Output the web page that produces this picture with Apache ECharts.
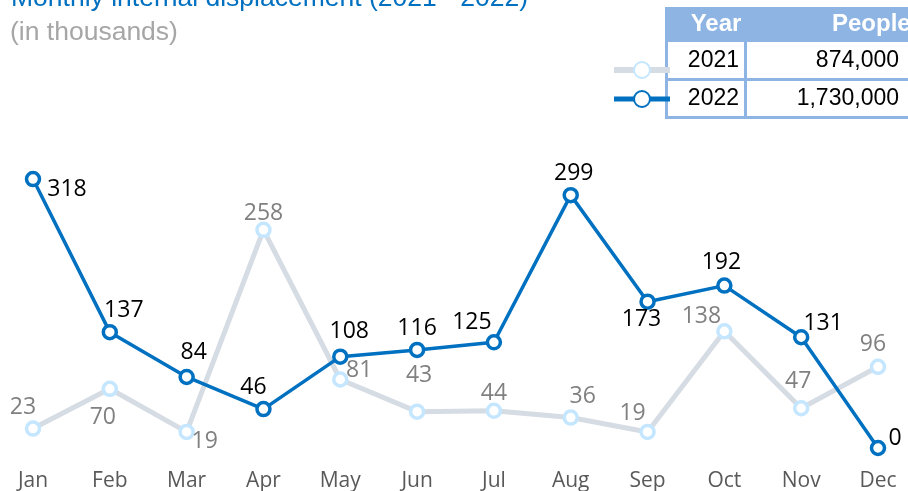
<!DOCTYPE html>
<html>
<head>
<meta charset="utf-8">
<script src="https://cdn.jsdelivr.net/npm/echarts@6/dist/echarts.min.js"></script>
<style>
  html, body { margin: 0; padding: 0; background: #fff; }
  #chart { width: 908px; height: 491px; }
</style>
</head>
<body>
<div id="chart"></div>
<script>
// months on the x axis
var months = ['Jan', 'Feb', 'Mar', 'Apr', 'May', 'Jun', 'Jul', 'Aug', 'Sep', 'Oct', 'Nov', 'Dec'];
// monthly displacement, thousands
var values2021 = [23, 70, 19, 258, 81, 43, 44, 36, 19, 138, 47, 96];
var values2022 = [318, 137, 84, 46, 108, 116, 125, 299, 173, 192, 131, 0];
// legend table
var tableYears = ['2021', '2022'];
var tablePeople = ['874,000', '1,730,000'];

// label nudges (relative to 'top')
var offs2021 = [[-10, 0], [-7, 49], [18, 30], [0, 4], [19, 12], [2, -15], [0, 3], [12, 0], [-15, 2], [-23, 6], [-3, -6], [-5, -2]];
var offs2022 = [[34, 32], [14, 0], [7, -3], [-10, 0], [9, -3], [0, 0], [-22, 2], [3, 0], [-6, 40], [-3, -1], [22, 8], [17, 12]];

function withLabels(vals, offs) {
  return vals.map(function (v, i) {
    return { value: v, label: { offset: offs[i] } };
  });
}

var chart = echarts.init(document.getElementById('chart'));

var tableColor = '#8db4e2';
var cellFont = '23px "Liberation Sans", Arial';
var headFont = 'bold 24px "Liberation Sans", Arial';
var graphics = [
  { type: 'rect', shape: { x: 665, y: 7, width: 260, height: 112 }, style: { fill: tableColor } },
  { type: 'rect', shape: { x: 668, y: 42, width: 76, height: 36 }, style: { fill: '#fff' } },
  { type: 'rect', shape: { x: 747, y: 42, width: 170, height: 36 }, style: { fill: '#fff' } },
  { type: 'rect', shape: { x: 668, y: 81, width: 76, height: 35 }, style: { fill: '#fff' } },
  { type: 'rect', shape: { x: 747, y: 81, width: 170, height: 35 }, style: { fill: '#fff' } },
  { type: 'text', x: 716, y: 24, style: { text: 'Year', fill: '#fff', font: headFont, align: 'center', verticalAlign: 'middle' } },
  { type: 'text', x: 832, y: 24, style: { text: 'People', fill: '#fff', font: headFont, align: 'left', verticalAlign: 'middle' } }
];
tableYears.forEach(function (y, i) {
  var cy = 61 + i * 38;
  graphics.push({ type: 'text', x: 739, y: cy, style: { text: y, fill: '#000', font: cellFont, align: 'right', verticalAlign: 'middle' } });
  graphics.push({ type: 'text', x: 899, y: cy, style: { text: tablePeople[i], fill: '#000', font: cellFont, align: 'right', verticalAlign: 'middle' } });
});

var option = {
  animation: false,
  title: [
    {
      text: 'Monthly internal displacement (2021 - 2022)',
      left: 6, top: -20,
      textStyle: { color: '#0070c0', fontSize: 26.5, fontWeight: 'normal', fontFamily: '"Liberation Sans", Arial' }
    },
    {
      text: '(in thousands)',
      left: 5, top: 14,
      textStyle: { color: '#a6a6a6', fontSize: 26.5, fontWeight: 'normal', fontFamily: '"Liberation Sans", Arial' }
    }
  ],
  legend: {
    orient: 'vertical',
    left: 606, top: 55,
    itemWidth: 56, itemHeight: 20, itemGap: 10,
    formatter: function () { return ''; },
    data: [
      { name: '2021', lineStyle: { width: 6 } },
      { name: '2022', lineStyle: { width: 5 } }
    ]
  },
  grid: { left: 33, right: 30, top: 152, bottom: 43, outerBoundsMode: 'none' },
  xAxis: {
    type: 'category',
    data: months,
    boundaryGap: false,
    axisLine: { show: false },
    axisTick: { show: false },
    axisLabel: { color: '#595959', fontSize: 21, fontFamily: '"Open Sans", sans-serif', margin: 23 }
  },
  yAxis: {
    type: 'value',
    min: 0, max: 350,
    show: false
  },
  series: [
    {
      name: '2021',
      type: 'line',
      data: withLabels(values2021, offs2021),
      symbol: 'circle',
      symbolSize: 13,
      lineStyle: { color: '#d6dce4', width: 5 },
      itemStyle: { color: '#fff', borderColor: '#c5e6ff', borderWidth: 3.5 },
      label: { show: true, position: 'top', distance: 1, color: '#808080', fontSize: 23, fontFamily: '"Open Sans", sans-serif' },
      z: 2
    },
    {
      name: '2022',
      type: 'line',
      data: withLabels(values2022, offs2022),
      symbol: 'circle',
      symbolSize: 13,
      lineStyle: { color: '#0070c0', width: 3.5 },
      itemStyle: { color: '#fff', borderColor: '#0070c0', borderWidth: 3.5 },
      label: { show: true, position: 'top', distance: 2, color: '#000', fontSize: 23, fontFamily: '"Open Sans", sans-serif' },
      z: 3
    }
  ],
  graphic: graphics
};

chart.setOption(option);
</script>
</body>
</html>
